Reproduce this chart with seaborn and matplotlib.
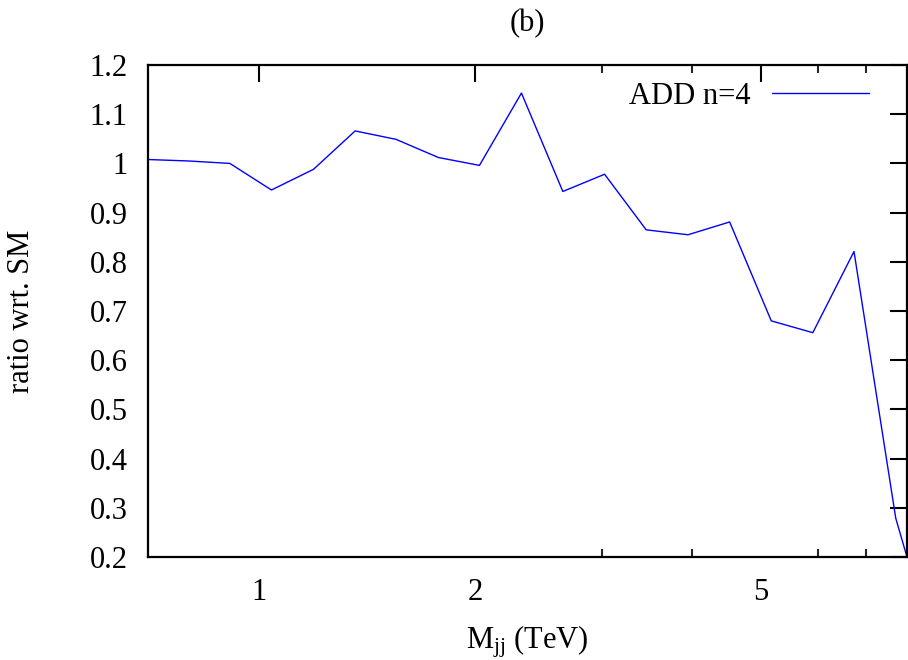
import matplotlib
matplotlib.use("Agg")
import matplotlib.pyplot as plt
from matplotlib.ticker import FixedLocator, NullFormatter, FixedFormatter
import seaborn as sns
import pandas as pd

# Dijet invariant mass bins (TeV) and ADD (n=4) / SM ratio
mjj_tev = [0.697, 0.796, 0.91, 1.04, 1.19, 1.36, 1.55, 1.776, 2.026, 2.318,
           2.647, 3.026, 3.458, 3.954, 4.519, 5.164, 5.90, 6.733, 7.697, 7.98]
ratio_add_n4 = [1.008, 1.005, 1.000, 0.946, 0.988, 1.066, 1.049, 1.012, 0.996, 1.143,
                0.943, 0.978, 0.865, 0.855, 0.881, 0.680, 0.656, 0.821, 0.279, 0.200]
series_label = "ADD n=4"

x_major = [1, 2, 5]
x_minor = [3, 4, 6, 7]
y_ticks = [0.2, 0.3, 0.4, 0.5, 0.6, 0.7, 0.8, 0.9, 1.0, 1.1, 1.2]
y_ticklabels = ["0.2", "0.3", "0.4", "0.5", "0.6", "0.7", "0.8", "0.9", "1", "1.1", "1.2"]

sns.set_theme(style="white")
plt.rcParams["font.family"] = ["Liberation Serif", "DejaVu Serif"]
plt.rcParams["mathtext.fontset"] = "custom"
plt.rcParams["mathtext.rm"] = "Liberation Serif"
plt.rcParams["mathtext.it"] = "Liberation Serif:italic"
plt.rcParams["text.color"] = "black"
plt.rcParams["axes.labelcolor"] = "black"

FS = 22

df = pd.DataFrame({"mjj": mjj_tev, "ratio": ratio_add_n4, "model": series_label})

fig = plt.figure(figsize=(9.08, 6.60), dpi=100)
ax = fig.add_axes([0.163, 0.156, 0.8359, 0.7455])

sns.lineplot(data=df, x="mjj", y="ratio", hue="model", palette=["#0000ff"],
             linewidth=1.0, ax=ax, sort=False, estimator=None)

ax.set_xscale("log")
ax.set_xlim(0.7, 7.98)
ax.set_ylim(0.2, 1.2)

ax.xaxis.set_major_locator(FixedLocator(x_major))
ax.xaxis.set_major_formatter(FixedFormatter([str(v) for v in x_major]))
ax.xaxis.set_minor_locator(FixedLocator(x_minor))
ax.xaxis.set_minor_formatter(NullFormatter())
ax.set_yticks(y_ticks)
ax.set_yticklabels(y_ticklabels)

ax.tick_params(axis="both", which="major", direction="in", length=12, width=1.5,
               top=True, right=True, labelsize=FS, colors="black")
ax.tick_params(axis="y", which="major", pad=14.5)
ax.tick_params(axis="x", which="major", pad=15)
ax.tick_params(axis="x", which="minor", direction="in", length=6, width=1.5,
               top=True, bottom=True)

for side in ["left", "right", "top", "bottom"]:
    ax.spines[side].set_visible(True)
    ax.spines[side].set_color("black")
    ax.spines[side].set_linewidth(1.6)

ax.set_xlabel(r"M$_{\mathrm{jj}}$ (TeV)", fontsize=FS, labelpad=12)
ax.set_ylabel("ratio wrt. SM", fontsize=FS, labelpad=39)
ax.set_title("(b)", fontsize=FS, pad=24)

leg = ax.legend(loc="upper right", frameon=False, fontsize=FS, markerfirst=False,
                handlelength=3.15, handletextpad=0.7, borderaxespad=0.0,
                bbox_to_anchor=(0.9657, 0.99))
for line in leg.get_lines():
    line.set_linewidth(1.0)

fig.savefig("out.png", dpi=100, facecolor="white")
